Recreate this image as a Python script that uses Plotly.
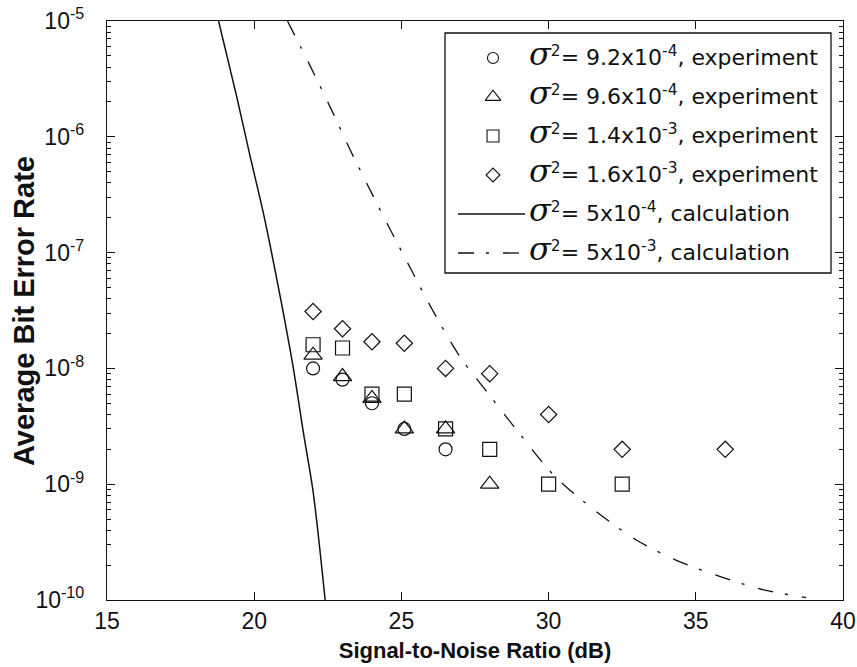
import plotly.graph_objects as go

# Measured bit error rates (experiment)
snr_circle = [22, 23, 24, 25.1, 26.5]
ber_circle = [1.0e-8, 8.0e-9, 5.0e-9, 3.0e-9, 2.0e-9]

snr_triangle = [22, 23, 24, 25.1, 26.5, 28]
ber_triangle = [1.3e-8, 8.5e-9, 5.5e-9, 3.0e-9, 3.0e-9, 1.0e-9]

snr_square = [22, 23, 24, 25.1, 26.5, 28, 30, 32.5]
ber_square = [1.6e-8, 1.5e-8, 6.0e-9, 6.0e-9, 3.0e-9, 2.0e-9, 1.0e-9, 1.0e-9]

snr_diamond = [22, 23, 24, 25.1, 26.5, 28, 30, 32.5, 36]
ber_diamond = [3.1e-8, 2.2e-8, 1.7e-8, 1.65e-8, 1.0e-8, 9.0e-9, 4.0e-9, 2.0e-9, 2.0e-9]

# Calculated curves
snr_calc_a = [18.79, 19.41, 19.86, 20.31, 20.88, 21.33, 21.67, 22.01, 22.41]
ber_calc_a = [1.0e-5, 2.2e-6, 6.8e-7, 2.2e-7, 4.2e-8, 1.0e-8, 2.8e-9, 8.3e-10, 1.0e-10]

snr_calc_b = [21.13, 21.9, 22.63, 23.25, 23.93, 24.61, 25.40, 25.97, 26.99, 28.01,
              29.03, 30.21, 31.62, 32.98, 34.34, 35.81, 37.27, 38.75]
ber_calc_b = [1.0e-5, 4.1e-6, 1.7e-6, 7.8e-7, 3.5e-7, 1.6e-7, 6.6e-8, 3.5e-8, 1.26e-8, 5.8e-9,
              2.7e-9, 1.17e-9, 5.8e-10, 3.3e-10, 2.2e-10, 1.6e-10, 1.23e-10, 1.05e-10]

x_ticks = [15, 20, 25, 30, 35, 40]
y_exponents = [-10, -9, -8, -7, -6, -5]

legend_values = ["9.2x10<sup>-4</sup>, experiment",
                 "9.6x10<sup>-4</sup>, experiment",
                 "1.4x10<sup>-3</sup>, experiment",
                 "1.6x10<sup>-3</sup>, experiment",
                 "5x10<sup>-4</sup>, calculation",
                 "5x10<sup>-3</sup>, calculation"]

W, H = 857, 667
ML, MR, MT, MB = 107, 14, 21, 67
PW, PH = W - ML - MR, H - MT - MB

def fx(px):
    return (px - ML) / PW

def fy(py):
    return (H - MB - py) / PH

INK = "#111111"
DASHDOT = "16px,12px,3px,14px"

marker_styles = [
    dict(symbol="circle-open", size=13),
    dict(symbol="triangle-up-open", size=16),
    dict(symbol="square-open", size=14),
    dict(symbol="diamond-open", size=12.5),
]

fig = go.Figure()

series = [(snr_circle, ber_circle), (snr_triangle, ber_triangle),
          (snr_square, ber_square), (snr_diamond, ber_diamond)]
for (xs, ys), ms in zip(series, marker_styles):
    fig.add_trace(go.Scatter(
        x=xs, y=ys, mode="markers",
        marker=dict(symbol=ms["symbol"], size=ms["size"], color=INK,
                    line=dict(color=INK, width=1.2)),
        showlegend=False, cliponaxis=True))

fig.add_trace(go.Scatter(x=snr_calc_a, y=ber_calc_a, mode="lines",
                         line=dict(color=INK, width=1.5, shape="spline", smoothing=0.8),
                         showlegend=False))
fig.add_trace(go.Scatter(x=snr_calc_b, y=ber_calc_b, mode="lines",
                         line=dict(color=INK, width=1.3, dash=DASHDOT, shape="spline",
                                   smoothing=0.8),
                         showlegend=False))

# ---- legend box drawn on an overlay axis spanning the plot area (0..1) ----
row_y = [58, 97, 136, 175, 214, 253]
sym_x = 493
line_x0, line_x1 = 458, 525
text_x = 527
box = (445, 33, 831, 273)

shapes = [dict(type="rect", xref="paper", yref="paper",
               x0=fx(box[0]), x1=fx(box[2]), y0=fy(box[3]), y1=fy(box[1]),
               line=dict(color=INK, width=1.3), fillcolor="white", layer="below")]

for i, ms in enumerate(marker_styles):
    fig.add_trace(go.Scatter(
        x=[fx(sym_x)], y=[fy(row_y[i])], xaxis="x2", yaxis="y2", mode="markers",
        marker=dict(symbol=ms["symbol"], size=ms["size"] * 0.85, color=INK,
                    line=dict(color=INK, width=1.1)),
        showlegend=False, cliponaxis=False))

for i, dash in [(4, "solid"), (5, DASHDOT)]:
    fig.add_trace(go.Scatter(
        x=[fx(line_x0), fx(line_x1)], y=[fy(row_y[i]), fy(row_y[i])],
        xaxis="x2", yaxis="y2", mode="lines",
        line=dict(color=INK, width=1.3, dash=dash),
        showlegend=False, cliponaxis=False))

sigma = ('<span style="font-family:DejaVu Serif;font-size:32px"><i>σ</i></span>'
         '<sup>2</sup>= ')
annotations = []
for i, txt in enumerate(legend_values):
    annotations.append(dict(
        x=fx(text_x), y=fy(row_y[i] - 4), xref="paper", yref="paper",
        xanchor="left", yanchor="middle", showarrow=False,
        text=sigma + txt,
        font=dict(family="DejaVu Sans", size=22, color=INK)))

# vertical axis title
annotations.append(dict(
    x=fx(24), y=fy(311), xref="paper", yref="paper",
    xanchor="center", yanchor="middle", showarrow=False, textangle=-90,
    text="<b>Average Bit Error Rate</b>",
    font=dict(family="Liberation Sans", size=29, color=INK)))

minor_vals = [m * 10.0 ** k for k in range(-10, -5) for m in range(2, 10)]

axis_common = dict(showline=True, linecolor=INK, linewidth=1.3, mirror="allticks",
                   ticks="inside", ticklen=8, tickwidth=1.2, tickcolor=INK,
                   showgrid=False, zeroline=False, automargin=False,
                   tickfont=dict(family="Liberation Sans", size=23, color=INK))

fig.update_layout(
    width=W, height=H,
    margin=dict(l=ML, r=MR, t=MT, b=MB, autoexpand=False),
    plot_bgcolor="white", paper_bgcolor="white",
    showlegend=False,
    xaxis=dict(range=[15, 40], tickvals=x_ticks,
               ticktext=[str(v) for v in x_ticks],
               title=dict(text="Signal-to-Noise Ratio (dB)", standoff=9,
                          font=dict(family="Liberation Sans", size=22,
                                    weight="bold", color=INK)),
               **axis_common),
    yaxis=dict(type="log", range=[-10, -5],
               tickvals=[10.0 ** e for e in y_exponents],
               ticktext=[f"10<sup>{e}</sup>" for e in y_exponents],
               ticklabelstandoff=17,
               minor=dict(tickvals=minor_vals, ticks="inside", ticklen=4,
                          tickwidth=1, tickcolor=INK),
               **axis_common),
    xaxis2=dict(overlaying="x", anchor="y2", range=[0, 1], visible=False, fixedrange=True),
    yaxis2=dict(overlaying="y", anchor="x2", range=[0, 1], visible=False, fixedrange=True),
    shapes=shapes,
    annotations=annotations,
)

fig.write_html("out.html")
